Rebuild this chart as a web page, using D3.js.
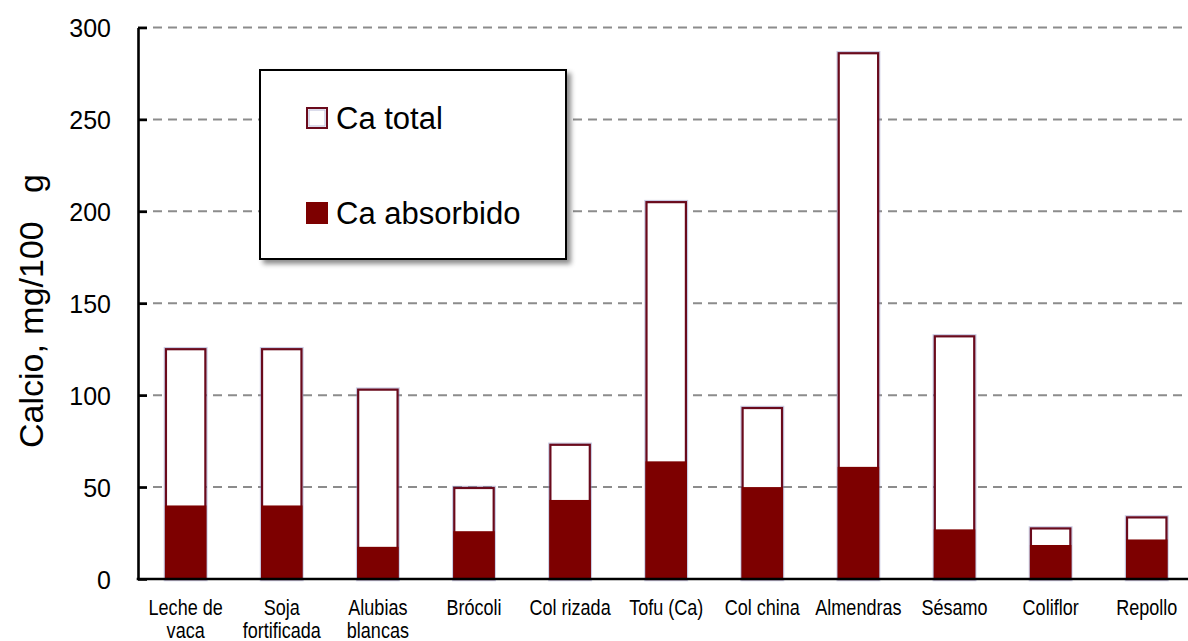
<!DOCTYPE html>
<html><head><meta charset="utf-8">
<script src="https://cdn.jsdelivr.net/npm/d3@7"></script>
<style>html,body{margin:0;padding:0;background:#fff;overflow:hidden;} svg{display:block;}</style>
</head><body>
<svg id="chart" width="1188" height="641"></svg>
<script>
// ---- data ----
const categories = ["Leche de\nvaca", "Soja\nfortificada", "Alubias\nblancas", "Brócoli", "Col rizada", "Tofu (Ca)", "Col china", "Almendras", "Sésamo", "Coliflor", "Repollo"];
const caTotal =     [125, 125, 103, 49.5, 73, 205, 93, 286, 132, 27.5, 33.5];
const caAbsorbido = [40, 40, 17.5, 26, 43, 64, 50, 61, 27, 18.5, 21.5];
const yTicks = [0, 50, 100, 150, 200, 250, 300];
const legendLabels = ["Ca total", "Ca absorbido"];
const yTitle = "Calcio, mg/100\u00a0\u00a0\u00a0g";

// ---- layout ----
const svg = d3.select("#chart");
const W = 1188, H = 641;
const axisX = 138, baseY = 579;
const x = d3.scaleBand().domain(categories).range([137.6, 1194.8]).padding(0);
const y = d3.scaleLinear().domain([0, 300]).range([baseY, 27.5]);
const barW = x.bandwidth() * 0.41;
const darkRed = "#7d0000";
const FONT = "'Liberation Sans', Arial, Helvetica, sans-serif";

const defs = svg.append("defs");
const sh = defs.append("filter").attr("id", "shadow").attr("x", "-10%").attr("y", "-10%").attr("width", "130%").attr("height", "130%");
sh.append("feDropShadow").attr("dx", 4).attr("dy", 4).attr("stdDeviation", 2.5).attr("flood-color", "#000").attr("flood-opacity", 0.45);

// gridlines
svg.append("g").selectAll("line").data(yTicks.filter(d => d > 0)).join("line")
  .attr("x1", axisX).attr("x2", W)
  .attr("y1", d => y(d)).attr("y2", d => y(d))
  .attr("stroke", "#8c8c8c").attr("stroke-width", 2).attr("stroke-dasharray", "9,6");

// bars
const data = categories.map((c, i) => ({c, t: caTotal[i], a: caAbsorbido[i]}));
const bars = svg.append("g");
bars.selectAll("rect.halo").data(data).join("rect").attr("class", "halo")
  .attr("x", d => x(d.c) + x.bandwidth() / 2 - barW / 2)
  .attr("y", d => y(d.t))
  .attr("width", barW).attr("height", d => y(0) - y(d.t))
  .attr("fill", "none").attr("stroke", "#8a8ec0").attr("stroke-opacity", 0.45).attr("stroke-width", 4.5);
bars.selectAll("rect.total").data(data).join("rect").attr("class", "total")
  .attr("x", d => x(d.c) + x.bandwidth() / 2 - barW / 2)
  .attr("y", d => y(d.t))
  .attr("width", barW).attr("height", d => y(0) - y(d.t))
  .attr("fill", "#fff").attr("stroke", "#6a0a1c").attr("stroke-width", 2.2);
bars.selectAll("rect.abs").data(data).join("rect").attr("class", "abs")
  .attr("x", d => x(d.c) + x.bandwidth() / 2 - barW / 2 - 1)
  .attr("y", d => y(d.a))
  .attr("width", barW + 2).attr("height", d => y(0) - y(d.a))
  .attr("fill", darkRed);

// y axis
const yAxis = d3.axisLeft(y).tickValues(yTicks).tickSize(-9).tickSizeOuter(0).tickPadding(27);
const gy = svg.append("g").attr("transform", `translate(${axisX},0)`).call(yAxis);
gy.select(".domain").attr("stroke", "#000").attr("stroke-width", 2.6);
gy.selectAll(".tick line").attr("stroke", "#000").attr("stroke-width", 2.6);
gy.selectAll(".tick text").attr("font-family", FONT).attr("font-size", 25).attr("fill", "#000").attr("dy", "0.36em");

// x axis
const xAxis = d3.axisBottom(x).tickSize(0).tickSizeOuter(0).tickFormat("");
const gx = svg.append("g").attr("transform", `translate(0,${baseY})`).call(xAxis);
gx.select(".domain").attr("stroke", "#000").attr("stroke-width", 2.6).attr("d", `M${axisX - 1.3},0H${W}`);

// category labels (condensed)
const lab = svg.append("g").selectAll("g").data(categories).join("g")
  .attr("transform", d => `translate(${x(d) + x.bandwidth() / 2},615) scale(0.82,1)`);
lab.each(function(d) {
  const lines = d.split("\n");
  d3.select(this).selectAll("text").data(lines).join("text")
    .attr("y", (l, i) => i * 23)
    .attr("text-anchor", "middle")
    .attr("font-family", FONT).attr("font-size", 22).attr("fill", "#000")
    .text(l => l);
});

// y title
svg.append("text")
  .attr("transform", `translate(43,311) rotate(-90)`)
  .attr("text-anchor", "middle")
  .attr("font-family", FONT).attr("font-size", 34).attr("fill", "#000")
  .style("white-space", "pre")
  .text(yTitle);

// legend
const lg = svg.append("g");
lg.append("rect").attr("x", 260).attr("y", 70).attr("width", 306).attr("height", 189)
  .attr("fill", "#fff").attr("stroke", "#000").attr("stroke-width", 2).attr("filter", "url(#shadow)");
const legendY = [118, 213];
legendLabels.forEach((l, i) => {
  const cy = legendY[i];
  if (i === 0) {
    lg.append("rect").attr("x", 307).attr("y", cy - 10).attr("width", 20).attr("height", 20)
      .attr("fill", "#fff").attr("stroke", "#6a0a1c").attr("stroke-width", 2);
    lg.append("rect").attr("x", 309).attr("y", cy - 8).attr("width", 16).attr("height", 16)
      .attr("fill", "none").attr("stroke", "#8a8ec0").attr("stroke-opacity", 0.6).attr("stroke-width", 1);
  } else {
    lg.append("rect").attr("x", 306).attr("y", cy - 11).attr("width", 22).attr("height", 22)
      .attr("fill", darkRed);
  }
  lg.append("text").attr("x", 336).attr("y", cy).attr("dy", "0.36em")
    .attr("font-family", FONT).attr("font-size", 31).attr("fill", "#000")
    .text(l);
});
</script>
</body></html>
